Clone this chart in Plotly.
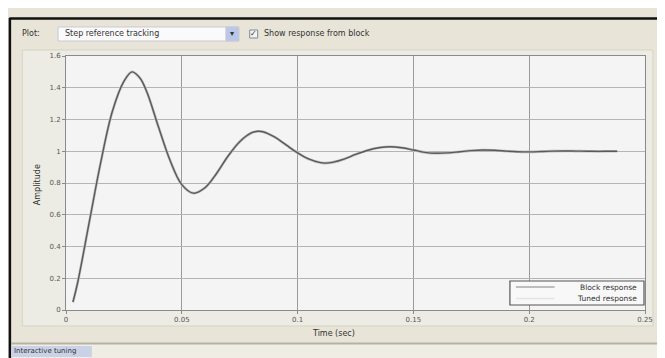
import plotly.graph_objects as go

# ---- data ----
time_s = [0.003, 0.005, 0.010, 0.015, 0.020, 0.025, 0.0285, 0.032, 0.035, 0.040,
          0.045, 0.050, 0.055, 0.060, 0.065, 0.070, 0.075, 0.080, 0.083, 0.085,
          0.090, 0.095, 0.100, 0.105, 0.110, 0.112, 0.115, 0.120, 0.125, 0.130,
          0.135, 0.140, 0.145, 0.150, 0.155, 0.160, 0.165, 0.170, 0.175, 0.180,
          0.185, 0.190, 0.195, 0.200, 0.205, 0.210, 0.215, 0.220, 0.225, 0.230,
          0.235, 0.238]
tuned_resp = [0.05, 0.17, 0.55, 0.93, 1.25, 1.44, 1.50, 1.46, 1.37, 1.15,
              0.94, 0.79, 0.736, 0.77, 0.86, 0.97, 1.06, 1.115, 1.126, 1.123,
              1.09, 1.04, 0.99, 0.95, 0.928, 0.925, 0.93, 0.95, 0.98, 1.005,
              1.022, 1.028, 1.022, 1.008, 0.993, 0.987, 0.99, 0.997, 1.004, 1.008,
              1.006, 1.001, 0.997, 0.996, 0.998, 1.001, 1.002, 1.001, 1.0, 0.999,
              1.0, 1.0]
block_resp = list(tuned_resp)
series_names = ["Block response", "Tuned response"]
ref_level = 1.0
x_ticks = [0, 0.05, 0.1, 0.15, 0.2, 0.25]
x_tick_text = ["0", "0.05", "0.1", "0.15", "0.2", "0.25"]
y_ticks = [0, 0.2, 0.4, 0.6, 0.8, 1.0, 1.2, 1.4, 1.6]
y_tick_text = ["0", "0.2", "0.4", "0.6", "0.8", "1", "1.2", "1.4", "1.6"]

# page has an 8px body margin, so the figure is drawn 8px in from the corner
OFF = 8
W, H = 665 - OFF, 358 - OFF
L, T = 66 - OFF, 56 - OFF
PW, PH = 583, 254
R, B = W - L - PW, H - T - PH


def px(p):  # reference page pixel -> paper x
    return (p - OFF - L) / PW


def py(q):  # reference page pixel -> paper y
    return (H - B - (q - OFF)) / PH


FONT = "DejaVu Sans"
BEIGE = "#E8E4D7"
PLOT_BG = "#F4F4F4"
BLOCK_COLOR = "#BDBDBD"
TUNED_COLOR = "#5A5A5A"

fig = go.Figure()
fig.add_trace(go.Scatter(x=time_s, y=block_resp, mode="lines", name=series_names[0],
                         line=dict(color=BLOCK_COLOR, width=2.6, shape="spline"),
                         hoverinfo="skip", showlegend=False))
fig.add_trace(go.Scatter(x=time_s, y=tuned_resp, mode="lines", name=series_names[1],
                         line=dict(color=TUNED_COLOR, width=1.4, shape="spline"),
                         showlegend=False))
fig.add_hline(y=ref_level, line=dict(color="#6A6A6A", width=1, dash="dot"), layer="below")

shapes = [
    # white strip above the window frame
    dict(type="rect", xref="paper", yref="paper", x0=px(0), x1=px(670), y0=py(18), y1=py(0),
         fillcolor="white", line=dict(width=0), layer="above"),
    # black frame edges
    dict(type="line", xref="paper", yref="paper", x0=px(9), x1=px(670), y0=py(18.5), y1=py(18.5),
         line=dict(color="#111111", width=2.5), layer="above"),
    dict(type="line", xref="paper", yref="paper", x0=px(9.5), x1=px(9.5), y0=py(18), y1=py(365),
         line=dict(color="#111111", width=2.5), layer="above"),
    # light panel behind axes
    dict(type="rect", xref="paper", yref="paper", x0=px(22), x1=px(657), y0=py(326), y1=py(50),
         fillcolor="#EDECE4", line=dict(color="#D6D3C6", width=1), layer="below"),
    # plot area fill (on top of the panel)
    dict(type="rect", xref="paper", yref="paper", x0=0, x1=1, y0=0, y1=1,
         fillcolor=PLOT_BG, line=dict(width=0), layer="below"),
    # status bar
    dict(type="rect", xref="paper", yref="paper", x0=px(11), x1=px(670), y0=py(365), y1=py(344),
         fillcolor="#EFEDE4", line=dict(width=0), layer="below"),
    dict(type="line", xref="paper", yref="paper", x0=px(11), x1=px(670), y0=py(343.5), y1=py(343.5),
         line=dict(color="#B5B1A3", width=2)),
    # dropdown
    dict(type="rect", xref="paper", yref="paper", x0=px(58), x1=px(240), y0=py(41), y1=py(27),
         fillcolor="#FAFAFA", line=dict(color="#C9C9D6", width=1)),
    dict(type="rect", xref="paper", yref="paper", x0=px(227), x1=px(240), y0=py(41), y1=py(27),
         fillcolor="#B9C8E8", line=dict(color="#C9C9D6", width=1)),
    # checkbox
    dict(type="rect", xref="paper", yref="paper", x0=px(251), x1=px(259), y0=py(38), y1=py(30),
         fillcolor="#F4F4F4", line=dict(color="#7A8A99", width=1)),
    # status text highlight
    dict(type="rect", xref="paper", yref="paper", x0=px(11), x1=px(92), y0=py(357), y1=py(346),
         fillcolor="#C9D2E6", line=dict(width=0)),
    # legend box
    dict(type="rect", xref="paper", yref="paper", x0=px(513), x1=px(648), y0=py(305), y1=py(281),
         fillcolor="#F8F8F8", line=dict(color="#555555", width=1.2), layer="above"),
    dict(type="line", xref="paper", yref="paper", x0=px(519), x1=px(558), y0=py(287), y1=py(287),
         line=dict(color=BLOCK_COLOR, width=2.2), layer="above"),
    dict(type="line", xref="paper", yref="paper", x0=px(519), x1=px(558), y0=py(298.5), y1=py(298.5),
         line=dict(color="#E4E4E4", width=1.4), layer="above"),
]

ann = [
    dict(text="Plot:", x=px(20), y=py(34), xanchor="left"),
    dict(text="Step reference tracking", x=px(63), y=py(34), xanchor="left"),
    dict(text="▾", x=px(233.5), y=py(34), xanchor="center"),
    dict(text="✓", x=px(255), y=py(34), xanchor="center"),
    dict(text="Show response from block", x=px(263), y=py(34), xanchor="left"),
    dict(text="Interactive tuning", x=px(12), y=py(351), xanchor="left", size=7),
    dict(text="Amplitude", x=px(37), y=py(185), xanchor="center", textangle=-90),
    dict(text="Time (sec)", x=px(335), y=py(333), xanchor="center"),
    dict(text=series_names[0], x=px(643), y=py(287), xanchor="right", size=7.5),
    dict(text=series_names[1], x=px(643), y=py(298.5), xanchor="right", size=7.5),
]
annotations = []
for a in ann:
    size = a.pop("size", 8)
    annotations.append(dict(a, xref="paper", yref="paper", yanchor="middle", showarrow=False,
                            font=dict(family=FONT, size=size, color="#333333")))

fig.update_layout(
    width=W, height=H,
    margin=dict(l=L, r=R, t=T, b=B),
    paper_bgcolor=BEIGE,
    plot_bgcolor=PLOT_BG,
    font=dict(family=FONT, size=7, color="#555555"),
    shapes=shapes,
    annotations=annotations,
    showlegend=False,
    xaxis=dict(range=[0, 0.25], tickvals=x_ticks, ticktext=x_tick_text,
               showgrid=True, gridcolor="#9A9A9A", gridwidth=1,
               showline=True, linecolor="#8A8A8A", mirror=True,
               ticks="outside", ticklen=3, tickcolor="#8A8A8A", zeroline=False),
    yaxis=dict(range=[0, 1.6], tickvals=y_ticks, ticktext=y_tick_text,
               showgrid=True, gridcolor="#B5B5B5", gridwidth=1,
               showline=True, linecolor="#8A8A8A", mirror=True,
               ticks="outside", ticklen=3, tickcolor="#8A8A8A", zeroline=False),
)

fig.write_html("out.html")
